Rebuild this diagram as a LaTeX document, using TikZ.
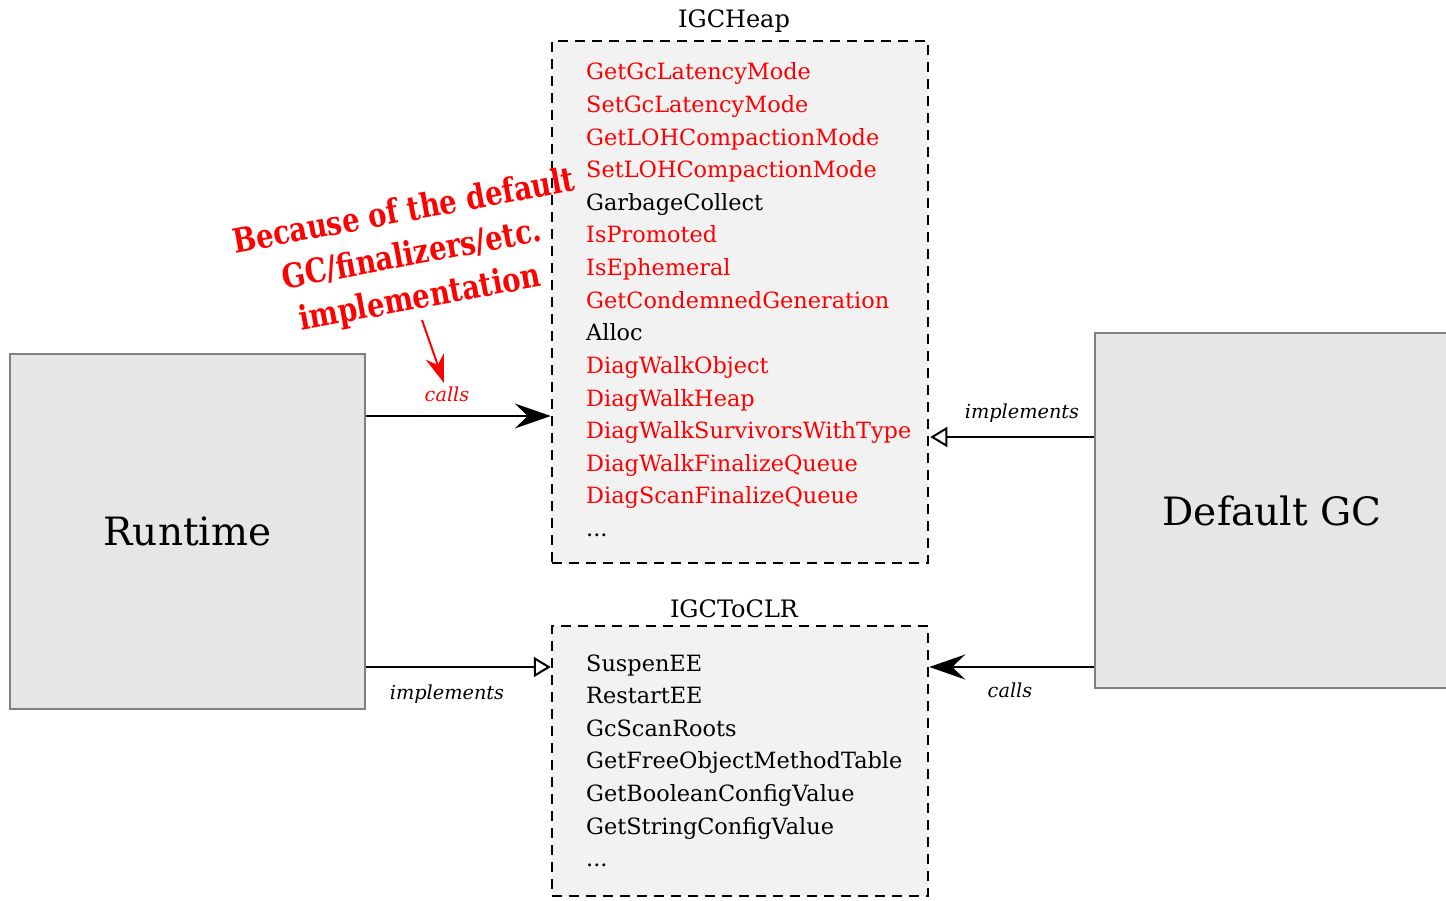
\documentclass[tikz,border=0pt]{standalone}
\usepackage{fontspec}
\setmainfont{DejaVu Serif}
\newfontfamily\notefont[FakeStretch=0.82]{DejaVu Serif}
\usetikzlibrary{arrows.meta}
\definecolor{hred}{RGB}{255,0,0}
\definecolor{compfill}{RGB}{230,230,230}
\definecolor{compline}{RGB}{128,128,128}
\definecolor{ifill}{RGB}{242,242,242}
\newcommand{\threedots}{...}
\begin{document}
\begin{tikzpicture}[x=1pt,y=-1pt,
  comp/.style={draw=compline, line width=2pt, fill=compfill, inner sep=0pt,
    minimum width=355pt, font=\fontsize{39}{44}\selectfont},
  iface/.style={draw=black, line width=2.5pt, dash pattern=on 10pt off 7pt,
    fill=ifill, inner sep=0pt, minimum width=376pt},
  ititle/.style={anchor=base, inner sep=0pt, font=\fontsize{24}{28}\selectfont},
  item/.style={anchor=base west, inner sep=0pt, font=\fontsize{22.4}{26}\selectfont},
  lbl/.style={inner sep=0pt, font=\itshape\fontsize{19.3}{22}\selectfont},
  conn/.style={line width=2pt},
  callsarr/.style={conn, -{Stealth[length=36pt, width=25pt, inset=13pt]}},
  implarr/.style={conn, -{Triangle[open, length=17pt, width=20pt, line width=2pt]}},
  redarr/.style={draw=hred, line width=2pt, -{Stealth[length=28pt, width=19pt, inset=9pt]}},
  note/.style={text=hred, align=center, inner sep=0pt, rotate=10.5,
    font=\notefont\bfseries\fontsize{33.5}{44}\selectfont}
]
\useasboundingbox (0,0) rectangle (1446,901);

% components
\node[comp, minimum height=355pt] (rt) at (187.5,531.5) {Runtime};
\node[comp, minimum height=355pt] (dgc) at (1272,510.5) {Default GC};

% interfaces
\node[iface, minimum height=522pt] (heap) at (740,302) {};
\node[iface, minimum height=270pt] (clr) at (740,761) {};
\node[ititle] (heapt) at (734,28) {IGCHeap};
\node[ititle] (clrt) at (734,617) {IGCToCLR};

\foreach \c/\t [count=\i] in {hred/GetGcLatencyMode, hred/SetGcLatencyMode,
  hred/GetLOHCompactionMode, hred/SetLOHCompactionMode, black/GarbageCollect,
  hred/IsPromoted, hred/IsEphemeral, hred/GetCondemnedGeneration, black/Alloc,
  hred/DiagWalkObject, hred/DiagWalkHeap, hred/DiagWalkSurvivorsWithType,
  hred/DiagWalkFinalizeQueue, hred/DiagScanFinalizeQueue, black/\threedots}
  \node[item, text=\c] (h\i) at (586,{80+(\i-1)*32.6}) {\t};

\foreach \t [count=\i] in {SuspenEE, RestartEE, GcScanRoots,
  GetFreeObjectMethodTable, GetBooleanConfigValue, GetStringConfigValue, \threedots}
  \node[item] (c\i) at (586,{671+(\i-1)*32.6}) {\t};

% connectors
\coordinate (ya) at (0,416);
\coordinate (yb) at (0,437);
\coordinate (yc) at (0,667);
\draw[callsarr] (rt.east |- ya) -- (heap.west |- ya);
\draw[implarr] (dgc.west |- yb) -- ([xshift=1pt]heap.east |- yb);
\draw[implarr] (rt.east |- yc) -- (clr.west |- yc);
\draw[callsarr] (dgc.west |- yc) -- (clr.east |- yc);

\node[lbl, text=hred] (l1) at (447,394) {calls};
\node[lbl] (l2) at (1022,413) {implements};
\node[lbl] (l3) at (447,694) {implements};
\node[lbl] (l4) at (1010,690) {calls};

% annotation
\node[note] (nt) at (412,256) {Because of the default\\GC/finalizers/etc.\\implementation};
\coordinate (ns) at (422,320);
\coordinate (ne) at (444,383);
\draw[redarr] (ns) -- (ne);
\end{tikzpicture}
\end{document}
